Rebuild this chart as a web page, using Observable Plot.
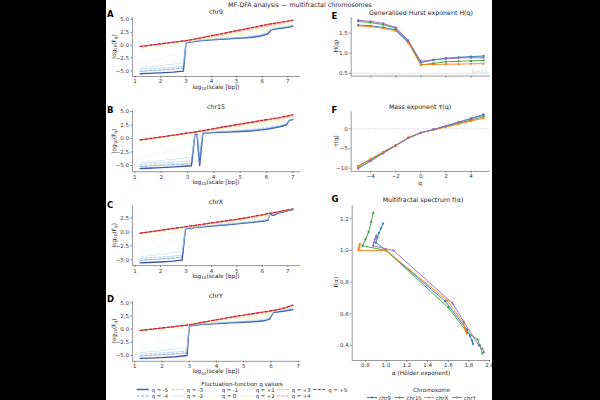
<!DOCTYPE html>
<html><head><meta charset="utf-8">
<script src="https://cdn.jsdelivr.net/npm/d3@7"></script>
<script src="https://cdn.jsdelivr.net/npm/@observablehq/plot@0.6"></script>
<style>
html,body{margin:0;padding:0;background:#000;}
#fig{position:relative;width:600px;height:400px;background:#000;overflow:hidden;}
#paper{position:absolute;left:106px;top:0;width:386px;height:400px;background:#fff;overflow:hidden;}
</style></head><body>
<div id="fig"><div id="paper"></div></div>
<script>
// ---------- data ----------
const qValues = [-5, -4, -3, -2, -1, 0, 1, 2, 3, 4, 5];
const qLabels = ["q = -5","q = -4","q = -3","q = -2","q = -1","q = 0","q = +1","q = +2","q = +3","q = +4","q = +5"];
const qColors = ["#3a56b0","#4f7fc0","#7fb2d8","#aed8ea","#d8eef6","#fbf5b8","#fde29a","#fdb76a","#f4845a","#e8606a","#cc1f3a"];
const chromosomes = ["chr9", "chr15", "chrX", "chrY"];
const chromColors = ["#1f77b4", "#2ca02c", "#ff7f0e", "#9467bd"];

// log10(scale) grids and log10(F_q) per q (rows q = -5 … +5)
const scales_chr9 = [1.2, 1.5, 2.0, 2.5, 2.9, 3.0, 3.5, 4.0, 4.5, 5.0, 5.5, 5.9, 6.2, 6.35, 6.5, 7.0, 7.2];
const logF_chr9 = [
  [-5.55,-5.5,-5.4,-5.25,-5.05, 0.45,0.85,1.05,1.2,1.35,1.5,1.75,2.15,3.0,3.15,3.5,3.7],
  [-5.1,-5.0,-4.85,-4.65,-4.45, 0.5,0.88,1.08,1.24,1.4,1.56,1.82,2.25,3.05,3.2,3.56,3.76],
  [-4.7,-4.6,-4.45,-4.3,-4.1, 0.55,0.92,1.12,1.28,1.45,1.63,1.9,2.35,3.1,3.26,3.62,3.82],
  [-4.4,-4.25,-4.0,-3.7,-3.4, 0.6,0.97,1.18,1.35,1.53,1.72,2.0,2.45,3.15,3.32,3.7,3.9],
  [-3.6,-3.3,-2.6,-1.8,-1.0, 0.65,1.03,1.27,1.47,1.68,1.9,2.2,2.62,3.25,3.42,3.85,4.05],
  [-0.9,-0.7,-0.35,0.0,0.35, 0.7,1.1,1.4,1.68,1.97,2.27,2.55,2.9,3.4,3.58,4.05,4.25],
  [-0.4,-0.2,0.12,0.45,0.7, 0.76,1.2,1.58,1.95,2.33,2.7,3.02,3.3,3.6,3.78,4.3,4.48],
  [-0.3,-0.1,0.22,0.53,0.78, 0.83,1.28,1.72,2.15,2.58,3.0,3.35,3.65,3.85,4.0,4.5,4.67],
  [-0.27,-0.08,0.25,0.56,0.81, 0.86,1.32,1.79,2.26,2.72,3.18,3.56,3.86,4.02,4.15,4.62,4.8],
  [-0.26,-0.07,0.26,0.57,0.82, 0.87,1.34,1.82,2.31,2.8,3.28,3.67,3.98,4.12,4.25,4.68,4.85],
  [-0.25,-0.06,0.27,0.58,0.83, 0.88,1.35,1.85,2.35,2.85,3.35,3.75,4.05,4.18,4.3,4.72,4.88]
];

const scales_chr15 = [1.2, 1.5, 2.0, 2.5, 3.0, 3.15, 3.28, 3.36, 3.46, 3.58, 4.0, 4.5, 5.0, 5.5, 6.0, 6.5, 6.75, 6.85, 7.0];
const logF_chr15 = [
  [-5.55,-5.5,-5.4,-5.25,-5.1,-5.05, 0.8,0.85,-5.0, 1.0, 1.1,1.2,1.3,1.45,1.72,2.15,2.5,3.3,3.55],
  [-5.2,-5.1,-4.95,-4.8,-4.7,-4.65, 0.85,0.9,-4.6, 1.05, 1.15,1.26,1.37,1.53,1.8,2.25,2.6,3.35,3.6],
  [-4.8,-4.7,-4.55,-4.4,-4.25,-4.2, 0.9,0.95,-3.6, 1.1, 1.2,1.32,1.45,1.62,1.9,2.35,2.7,3.4,3.65],
  [-4.5,-4.35,-4.1,-3.8,-3.55,-3.5, 0.95,1.0,-2.0, 1.15, 1.26,1.4,1.55,1.74,2.02,2.48,2.8,3.45,3.7],
  [-3.6,-3.3,-2.7,-2.0,-1.4,-1.3, 1.0,1.05,0.6, 1.2, 1.35,1.52,1.7,1.92,2.2,2.65,2.95,3.55,3.8],
  [-0.9,-0.7,-0.35,0.0,0.35,0.5, 1.05,1.1,1.1, 1.25, 1.5,1.75,2.0,2.25,2.6,3.0,3.25,3.7,3.95],
  [-0.4,-0.2,0.15,0.5,0.85,0.95, 1.05,1.15,1.2, 1.3, 1.6,1.95,2.3,2.65,3.0,3.4,3.6,3.85,4.1],
  [-0.3,-0.1,0.22,0.58,0.95,1.02, 1.1,1.2,1.26, 1.35, 1.7,2.1,2.5,2.88,3.25,3.65,3.88,3.98,4.2],
  [-0.27,-0.07,0.26,0.62,0.99,1.07, 1.15,1.25,1.32, 1.4, 1.76,2.18,2.6,3.0,3.4,3.78,4.02,4.1,4.3],
  [-0.26,-0.06,0.28,0.64,1.01,1.1, 1.18,1.28,1.36, 1.43, 1.8,2.22,2.65,3.05,3.45,3.85,4.1,4.18,4.38],
  [-0.25,-0.05,0.3,0.65,1.03,1.12, 1.2,1.3,1.38, 1.46, 1.85,2.27,2.69,3.1,3.5,3.9,4.15,4.25,4.44]
];

const scales_chrX = [1.2, 1.5, 2.0, 2.5, 2.85, 2.98, 3.5, 4.0, 4.5, 5.0, 5.5, 6.0, 6.22, 6.3, 6.4, 6.5, 6.6, 7.0, 7.2];
const logF_chrX = [
  [-5.55,-5.5,-5.4,-5.25,-5.05, 0.6, 0.9,1.1,1.28,1.48,1.7,1.95,2.1, 3.35,3.0,3.1,3.4,3.85,4.05],
  [-5.1,-5.0,-4.85,-4.7,-4.5, 0.63, 0.93,1.13,1.32,1.52,1.75,2.0,2.16, 3.38,3.08,3.18,3.45,3.88,4.07],
  [-4.75,-4.65,-4.5,-4.35,-4.15, 0.66, 0.96,1.17,1.36,1.57,1.8,2.06,2.22, 3.4,3.15,3.25,3.48,3.9,4.08],
  [-4.45,-4.3,-4.05,-3.75,-3.5, 0.7, 1.0,1.22,1.42,1.64,1.88,2.14,2.3, 3.42,3.22,3.3,3.52,3.92,4.1],
  [-3.6,-3.3,-2.6,-1.8,-0.9, 0.75, 1.06,1.3,1.52,1.75,2.0,2.28,2.45, 3.45,3.3,3.37,3.56,3.94,4.12],
  [-0.9,-0.7,-0.35,0.0,0.3, 0.8, 1.12,1.38,1.64,1.9,2.18,2.48,2.66, 3.42,3.36,3.42,3.58,3.96,4.13],
  [-0.4,-0.2,0.12,0.45,0.68, 0.85, 1.2,1.5,1.8,2.08,2.42,2.8,2.98, 3.38,3.42,3.48,3.6,3.97,4.14],
  [-0.28,-0.08,0.25,0.57,0.8, 0.9, 1.26,1.58,1.9,2.2,2.56,2.98,3.18, 3.36,3.45,3.52,3.62,3.98,4.15],
  [-0.22,-0.03,0.3,0.62,0.85, 0.93, 1.29,1.62,1.95,2.26,2.64,3.06,3.27, 3.37,3.46,3.54,3.63,3.99,4.16],
  [-0.2,-0.01,0.32,0.64,0.86, 0.95, 1.3,1.64,1.97,2.28,2.68,3.1,3.31, 3.38,3.47,3.55,3.64,4.0,4.17],
  [-0.18,0.0,0.33,0.65,0.87, 0.96, 1.3,1.65,1.98,2.3,2.7,3.12,3.33, 3.39,3.48,3.55,3.64,4.0,4.17]
];

const scales_chrY = [1.2, 1.5, 2.0, 2.5, 2.92, 3.0, 3.5, 4.0, 4.5, 5.0, 5.5, 5.8, 5.95, 6.08, 6.2, 6.5, 6.8];
const logF_chrY = [
  [-5.55,-5.5,-5.4,-5.25,-5.0, 0.6, 0.9,1.05,1.2,1.32,1.45,1.65,1.9, 3.15,3.25,3.45,3.7],
  [-5.1,-5.0,-4.85,-4.7,-4.45, 0.63, 0.94,1.1,1.25,1.38,1.52,1.72,1.98, 3.2,3.3,3.52,3.78],
  [-4.75,-4.65,-4.5,-4.35,-4.1, 0.67, 0.98,1.15,1.3,1.44,1.6,1.8,2.06, 3.25,3.36,3.6,3.86],
  [-4.45,-4.3,-4.05,-3.75,-3.45, 0.7, 1.03,1.21,1.37,1.52,1.7,1.9,2.16, 3.3,3.42,3.68,3.96],
  [-3.6,-3.3,-2.6,-1.8,-1.0, 0.75, 1.1,1.3,1.48,1.65,1.86,2.08,2.34, 3.38,3.5,3.8,4.1],
  [-0.9,-0.7,-0.35,0.0,0.35, 0.78, 1.16,1.42,1.66,1.9,2.14,2.36,2.6, 3.45,3.56,3.9,4.25],
  [-0.4,-0.2,0.12,0.45,0.68, 0.8, 1.24,1.6,1.95,2.28,2.62,2.84,2.98, 3.5,3.6,3.97,4.38],
  [-0.3,-0.1,0.2,0.5,0.74, 0.81, 1.28,1.7,2.12,2.5,2.9,3.12,3.25, 3.52,3.62,4.01,4.47],
  [-0.27,-0.08,0.21,0.51,0.76, 0.82, 1.29,1.75,2.2,2.62,3.02,3.25,3.38, 3.53,3.64,4.03,4.51],
  [-0.26,-0.07,0.22,0.52,0.77, 0.82, 1.3,1.77,2.23,2.66,3.06,3.3,3.43, 3.54,3.65,4.04,4.53],
  [-0.25,-0.07,0.22,0.52,0.77, 0.82, 1.3,1.78,2.25,2.68,3.08,3.32,3.45, 3.55,3.65,4.05,4.55]
];

// generalised Hurst exponent H(q)
const hurst_chr9  = [1.70, 1.68, 1.64, 1.58, 1.28, 0.77, 0.83, 0.88, 0.90, 0.92, 0.93];
const hurst_chr15 = [1.79, 1.76, 1.71, 1.62, 1.30, 0.71, 0.75, 0.79, 0.80, 0.81, 0.82];
const hurst_chrX  = [1.68, 1.66, 1.62, 1.55, 1.25, 0.72, 0.72, 0.73, 0.73, 0.74, 0.74];
const hurst_chrY  = [1.82, 1.79, 1.74, 1.64, 1.32, 0.80, 0.84, 0.86, 0.88, 0.89, 0.89];

// mass exponent tau(q)
const tau_chr9  = [-9.5, -7.72, -5.92, -4.16, -2.28, -1.0, -0.17, 0.76, 1.70, 2.68, 3.65];
const tau_chr15 = [-9.95, -8.04, -6.13, -4.24, -2.30, -1.0, -0.25, 0.58, 1.40, 2.24, 3.10];
const tau_chrX  = [-9.4, -7.64, -5.86, -4.10, -2.25, -1.0, -0.28, 0.46, 1.19, 1.96, 2.70];
const tau_chrY  = [-10.1, -8.16, -6.22, -4.28, -2.32, -1.0, -0.16, 0.72, 1.64, 2.56, 3.45];

// singularity spectrum: alpha and f(alpha)
const alpha_chr9  = [1.84, 1.83, 1.81, 1.78, 1.57, 1.00, 0.90, 0.915, 0.93, 0.95, 0.97];
const falpha_chr9 = [0.41, 0.43, 0.46, 0.50, 0.68, 1.00, 1.05, 1.08, 1.11, 1.14, 1.17];
const alpha_chr15  = [1.93, 1.905, 1.885, 1.78, 1.60, 1.00, 0.77, 0.80, 0.83, 0.855, 0.875];
const falpha_chr15 = [0.35, 0.40, 0.437, 0.484, 0.64, 1.00, 1.03, 1.07, 1.116, 1.18, 1.238];
const alpha_chrX  = [1.78, 1.77, 1.76, 1.75, 1.59, 1.00, 0.73, 0.735, 0.74, 0.742, 0.745];
const falpha_chrX = [0.474, 0.49, 0.51, 0.537, 0.684, 1.00, 1.00, 1.01, 1.02, 1.03, 1.04];
const alpha_chrY  = [1.945, 1.93, 1.895, 1.75, 1.64, 1.07, 0.874, 0.88, 0.89, 0.90, 0.906];
const falpha_chrY = [0.357, 0.38, 0.40, 0.55, 0.667, 1.00, 1.03, 1.05, 1.07, 1.085, 1.095];

const leftTicksX = [1, 2, 3, 4, 5, 6, 7];
const leftTicksY = [-5, -2.5, 0, 2.5, 5];
const qTicks = [-4, -2, 0, 2, 4];
const hurstTicks = [0.5, 1.0, 1.5];
const tauTicks = [-10, -5, 0];
const alphaTicks = [0.8, 1.0, 1.2, 1.4, 1.6, 1.8, 2.0];
const fTicks = [0.4, 0.6, 0.8, 1.0, 1.2];

// ---------- drawing ----------
const FONT = '"DejaVu Sans", sans-serif';
const paper = document.getElementById("paper");
const AX = "#555";
const fmt1 = d3.format(".1f");
const fmtD = d3.format("d");

// line style per q
const qWidth = qValues.map(q => (q === -5 ? 1.4 : q === 5 ? 1.2 : 0.8));
const qOpacity = qValues.map(q => (Math.abs(q) === 5 ? 1 : Math.abs(q) === 4 ? 0.85 : 0.7));
const qDash = qValues.map(q => ([-5, -2, 0].includes(q) ? null : "3,1.5"));

function pin(svg) {
  // every layer covers the whole 600x400 figure; the paper clips it
  for (const [k, v] of [["position", "absolute"], ["left", "-106px"], ["top", "0px"],
                        ["width", "600px"], ["height", "400px"], ["max-width", "none"],
                        ["margin", "0"], ["display", "block"]]) svg.style.setProperty(k, v, "important");
  paper.appendChild(svg);
}

function addPanel(box, cfg) {
  const yT = cfg.yTicks.filter(t => t >= cfg.yDomain[0] && t <= cfg.yDomain[1]);
  const xT = cfg.xTicks.filter(t => t >= cfg.xDomain[0] && t <= cfg.xDomain[1]);
  const svg = Plot.plot({
    width: 600, height: 400,
    marginLeft: box[0], marginRight: 600 - box[1], marginTop: box[2], marginBottom: 400 - box[3],
    style: {background: "transparent", fontFamily: FONT, fontSize: "5.5px", color: "#333", overflow: "visible"},
    x: {domain: cfg.xDomain},
    y: {domain: cfg.yDomain},
    marks: [
      ...cfg.marks,
      Plot.ruleX([cfg.xDomain[0]], {stroke: AX, strokeWidth: 0.6}),
      Plot.ruleY([cfg.yDomain[0]], {stroke: AX, strokeWidth: 0.6}),
      Plot.axisX(xT, {tickSize: 2, tickPadding: 1, tickFormat: cfg.xFmt, label: null, stroke: AX, strokeWidth: 0.6}),
      Plot.axisY(yT, {tickSize: 2, tickPadding: 1.5, tickFormat: cfg.yFmt, label: null, stroke: AX, strokeWidth: 0.6})
    ]
  });
  pin(svg);
}

function fluctMarks(grid, rows) {
  return rows.map((row, i) =>
    Plot.line(grid.map((s, j) => ({s, v: row[j]})), {
      x: "s", y: "v", stroke: qColors[i], strokeWidth: qWidth[i],
      strokeOpacity: qOpacity[i], strokeDasharray: qDash[i]
    })
  );
}

const leftPanels = [
  {box: [132, 300, 17, 76],       grid: scales_chr9,  rows: logF_chr9,  xDomain: [0.9, 7.5],  yDomain: [-6.1, 5.4]},
  {box: [132, 300, 110.5, 171.2], grid: scales_chr15, rows: logF_chr15, xDomain: [0.91, 7.29], yDomain: [-6.15, 5.1]},
  {box: [132, 300, 205.5, 265.1], grid: scales_chrX,  rows: logF_chrX,  xDomain: [0.9, 7.5],  yDomain: [-6.05, 4.7]},
  {box: [132, 300, 300.7, 360.8], grid: scales_chrY,  rows: logF_chrY,  xDomain: [0.92, 7.08], yDomain: [-6.1, 5.3]}
];
leftPanels.forEach(p => addPanel(p.box, {
  xDomain: p.xDomain, yDomain: p.yDomain, xTicks: leftTicksX, yTicks: leftTicksY,
  xFmt: fmtD, yFmt: fmt1, marks: fluctMarks(p.grid, p.rows)
}));

function chromSeries(xs, ysList) {
  const marks = [];
  ysList.forEach((ys, c) => {
    const pts = xs[c].map((x, i) => ({x, y: ys[i]}));
    marks.push(Plot.line(pts, {x: "x", y: "y", stroke: chromColors[c], strokeWidth: 0.9}));
    marks.push(Plot.dot(pts, {x: "x", y: "y", fill: chromColors[c], r: 1.1}));
  });
  return marks;
}
const qX = chromosomes.map(() => qValues);

// E: H(q)
addPanel([350.7, 490, 17, 75.6], {
  xDomain: [-5.55, 5.55], yDomain: [0.434, 1.886], xTicks: qTicks, yTicks: hurstTicks,
  xFmt: () => "", yFmt: fmt1,
  marks: [Plot.ruleY([0.5], {stroke: "#aaa", strokeWidth: 0.6, strokeDasharray: "1,1.2"}),
          ...chromSeries(qX, [hurst_chr9, hurst_chr15, hurst_chrX, hurst_chrY])]
});
// F: tau(q)
addPanel([350.7, 490, 111.4, 170.9], {
  xDomain: [-5.55, 5.55], yDomain: [-10.8, 4.3], xTicks: qTicks, yTicks: tauTicks,
  xFmt: fmtD, yFmt: fmtD,
  marks: [Plot.ruleY([0], {stroke: "#aaa", strokeWidth: 0.6, strokeDasharray: "1,1.2"}),
          ...chromSeries(qX, [tau_chr9, tau_chr15, tau_chrX, tau_chrY])]
});
// G: f(alpha)
addPanel([351.7, 490, 205, 360], {
  xDomain: [0.6715, 2.008], yDomain: [0.305, 1.284], xTicks: alphaTicks, yTicks: fTicks,
  xFmt: fmt1, yFmt: fmt1,
  marks: chromSeries([alpha_chr9, alpha_chr15, alpha_chrX, alpha_chrY],
                     [falpha_chr9, falpha_chr15, falpha_chrX, falpha_chrY])
});

// ---------- text, titles and legends ----------
const ovNode = d3.create("svg").attr("width", 600).attr("height", 400)
  .style("font-family", FONT).node();
pin(ovNode);
const ov = d3.select(ovNode);

function txt(x, y, s, o = {}) {
  const t = ov.append("text").attr("x", x).attr("y", y)
    .attr("font-size", o.size || 6).attr("fill", o.fill || "#222")
    .attr("text-anchor", o.anchor || "middle")
    .attr("font-weight", o.weight || "normal");
  if (o.rotate) t.attr("transform", `rotate(-90 ${x} ${y})`);
  if (Array.isArray(s)) {
    s.forEach(part => {
      const sp = t.append("tspan").text(part.t);
      if (part.sub) sp.attr("font-size", (o.size || 6) * 0.7).attr("dy", 1.4);
      if (part.back) sp.attr("dy", -1.4);
    });
  } else t.text(s);
  return t;
}

txt(300, 7, "MF-DFA analysis — multifractal chromosomes", {size: 6.3});

const logFLabel = [{t: "log"}, {t: "10", sub: true}, {t: "(F", back: true}, {t: "q", sub: true}, {t: ")", back: true}];
const scaleLabel = [{t: "log"}, {t: "10", sub: true}, {t: "(scale [bp])", back: true}];
const leftTitles = ["chr9", "chr15", "chrX", "chrY"];
const leftTitleY = [14.3, 108.5, 203.5, 297.5];
const letters = ["A", "B", "C", "D"];
const letterY = [16.5, 112.5, 208, 302];
leftPanels.forEach((p, i) => {
  txt(216, leftTitleY[i], leftTitles[i], {size: 6.3});
  txt(107, letterY[i], letters[i], {size: 8.5, weight: "bold", anchor: "start", fill: "#000"});
  txt(116, (p.box[2] + p.box[3]) / 2, logFLabel, {size: 5.8, rotate: true});
  txt(216, p.box[3] + 12.5, scaleLabel, {size: 5.8});
});

txt(331.5, 18.5, "E", {size: 8.5, weight: "bold", anchor: "start", fill: "#000"});
txt(331.5, 112.5, "F", {size: 8.5, weight: "bold", anchor: "start", fill: "#000"});
txt(331.5, 201.5, "G", {size: 8.5, weight: "bold", anchor: "start", fill: "#000"});
txt(421, 15, "Generalised Hurst exponent H(q)", {size: 6.3});
txt(420, 108.5, "Mass exponent τ(q)", {size: 6.3});
txt(423, 201.5, "Multifractal spectrum f(α)", {size: 6.3});
txt(338, 46, "H(q)", {size: 5.8, rotate: true});
txt(338, 141, "τ(q)", {size: 5.8, rotate: true});
txt(338, 282, "f(α)", {size: 5.8, rotate: true});
txt(420, 185, "q", {size: 5.8});
txt(421, 374.5, "α  (Hölder exponent)", {size: 5.8});
txt(487, 72.5, "n = 11", {size: 4.5, fill: "#bbb", anchor: "end"});

// q legend (6 columns x 2 rows, column-major)
txt(242, 385.5, "Fluctuation-function q values", {size: 5.6});
const colX = [136.7, 171.7, 206.7, 240.7, 276.7, 313.3];
const rowY = [389.5, 396];
qValues.forEach((q, i) => {
  const c = Math.floor(i / 2), r = i % 2;
  const x = colX[c], y = rowY[r];
  ov.append("line").attr("x1", x).attr("x2", x + 12).attr("y1", y).attr("y2", y)
    .attr("stroke", qColors[i]).attr("stroke-width", qWidth[i]).attr("stroke-opacity", qOpacity[i])
    .attr("stroke-dasharray", qDash[i]);
  txt(x + 15, y + 2, qLabels[i], {size: 5.3, anchor: "start"});
});

// chromosome legend
txt(431.7, 392, "Chromosome", {size: 5.6});
const chromLegX = [377, 404.5, 434, 462];
chromosomes.forEach((c, i) => {
  const x = chromLegX[i], y = 397.5;
  ov.append("line").attr("x1", x - 10).attr("x2", x).attr("y1", y).attr("y2", y)
    .attr("stroke", chromColors[i]).attr("stroke-width", 0.9);
  ov.append("circle").attr("cx", x - 5).attr("cy", y).attr("r", 1.1).attr("fill", chromColors[i]);
  txt(x + 2, y + 2, c, {size: 5.3, anchor: "start"});
});
</script>
</body></html>
